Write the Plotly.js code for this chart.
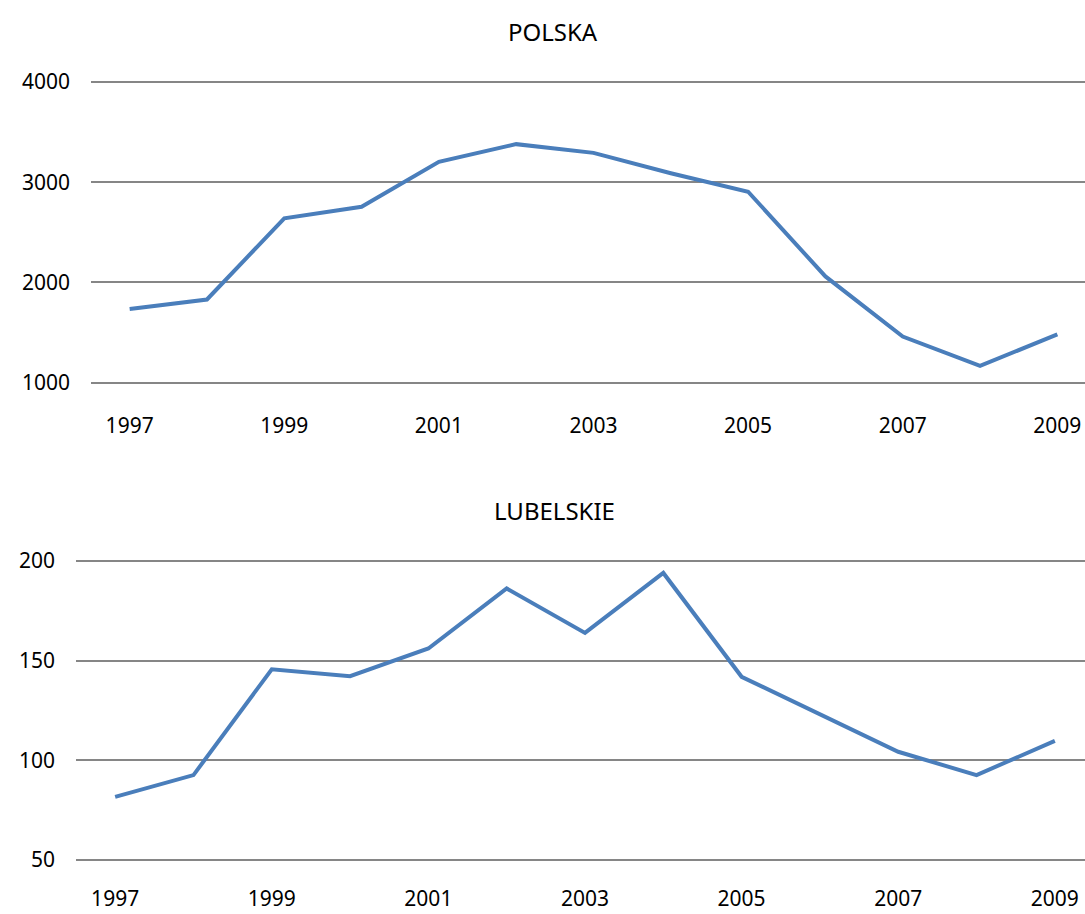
<!DOCTYPE html>
<html>
<head>
<meta charset="utf-8">
<script src="https://cdn.plot.ly/plotly-3.0.1.min.js"></script>
<style>
html, body { margin: 0; padding: 0; overflow: hidden; background: #fff; }
#chart { width: 1100px; height: 914px; }
</style>
</head>
<body>
<div id="chart"></div>
<script>
const years = [1997, 1998, 1999, 2000, 2001, 2002, 2003, 2004, 2005, 2006, 2007, 2008, 2009];
const polska = [1735, 1830, 2640, 2755, 3203, 3380, 3293, 3090, 2905, 2060, 1460, 1167, 1483];
const lubelskie = [81.7, 92.6, 145.7, 142.2, 156.1, 186.2, 163.9, 194, 141.9, 123, 104.3, 92.6, 109.8];
const xTickYears = [1997, 1999, 2001, 2003, 2005, 2007, 2009];
const xTickLabels = ['1997', '1999', '2001', '2003', '2005', '2007', '2009'];
const topTitle = 'POLSKA';
const bottomTitle = 'LUBELSKIE';
const topYTicks = [1000, 2000, 3000, 4000];
const bottomYTicks = [50, 100, 150, 200];

const W = 1100, H = 914;
const lineColor = '#4a7ebb';
const gridColor = '#868686';
const fontFamily = 'Noto Sans, sans-serif';

const traces = [
  { x: years, y: polska, type: 'scatter', mode: 'lines', xaxis: 'x', yaxis: 'y',
    line: { color: lineColor, width: 4 }, hoverinfo: 'skip' },
  { x: years, y: lubelskie, type: 'scatter', mode: 'lines', xaxis: 'x2', yaxis: 'y2',
    line: { color: lineColor, width: 4 }, hoverinfo: 'skip' }
];

function xAxis(domainPx, anchor, standoff) {
  return {
    domain: [domainPx[0] / W, domainPx[1] / W],
    range: [1996.5, 2009.5],
    anchor: anchor,
    tickmode: 'array', tickvals: xTickYears, ticktext: xTickLabels,
    showgrid: false, zeroline: false, showline: false, ticks: '',
    ticklabelstandoff: standoff,
    tickfont: { family: fontFamily, size: 21, color: '#000' },
    fixedrange: true
  };
}
function yAxis(range, domainPxTopBottom, anchor, tickvals) {
  return {
    domain: [(H - domainPxTopBottom[1]) / H, (H - domainPxTopBottom[0]) / H],
    range: range,
    anchor: anchor,
    tickmode: 'array', tickvals: tickvals,
    showgrid: true, gridcolor: gridColor, gridwidth: 2,
    zeroline: false, showline: false, ticks: '',
    ticklabelstandoff: 20,
    tickfont: { family: fontFamily, size: 21, color: '#000' },
    fixedrange: true
  };
}

const layout = {
  width: W, height: H,
  margin: { l: 0, r: 0, t: 0, b: 0 },
  paper_bgcolor: '#fff', plot_bgcolor: '#fff',
  showlegend: false,
  xaxis: xAxis([91, 1096], 'y', 23),
  yaxis: yAxis([950, 4050], [77, 387.7], 'x', topYTicks),
  xaxis2: xAxis([76, 1094], 'y2', 14),
  yaxis2: yAxis([45, 205], [551, 870], 'x2', bottomYTicks),
  annotations: [
    { text: topTitle, xref: 'paper', yref: 'paper', x: 553 / W, y: (H - 31) / H,
      xanchor: 'center', yanchor: 'middle', showarrow: false,
      font: { family: fontFamily, size: 24, color: '#000' } },
    { text: bottomTitle, xref: 'paper', yref: 'paper', x: 554 / W, y: (H - 510) / H,
      xanchor: 'center', yanchor: 'middle', showarrow: false,
      font: { family: fontFamily, size: 24, color: '#000' } }
  ]
};

Plotly.newPlot('chart', traces, layout, { staticPlot: true, displayModeBar: false });
</script>
</body>
</html>
